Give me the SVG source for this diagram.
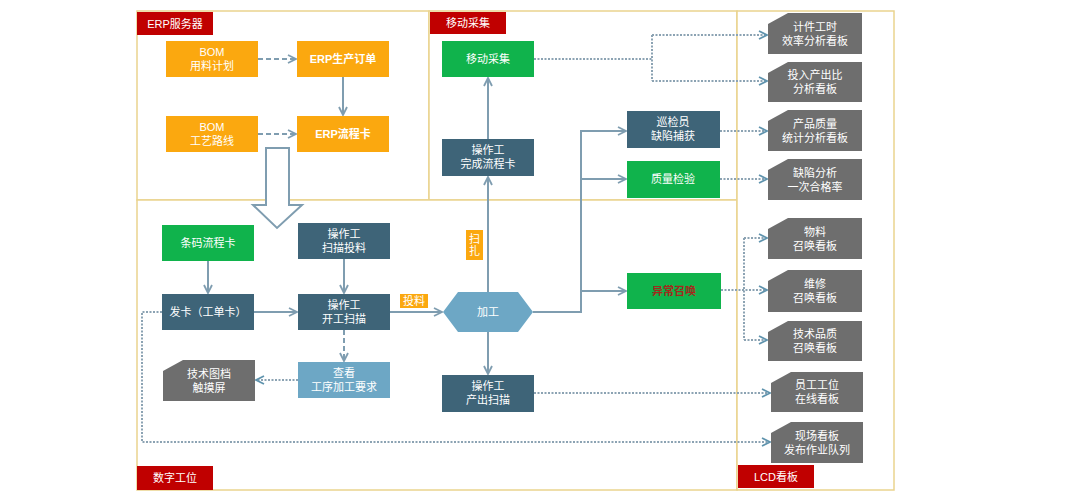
<svg xmlns="http://www.w3.org/2000/svg" width="1079" height="500" viewBox="0 0 1079 500">
<style>
.panel{fill:#fff;stroke:#EAD48E;stroke-width:1.5}
.tag{fill:#C00000}
.tagt{fill:#fff;font-family:"Liberation Sans","Noto Sans CJK SC",sans-serif;font-size:11px;text-anchor:middle;dominant-baseline:central}
.t{fill:#fff;font-family:"Liberation Sans","Noto Sans CJK SC",sans-serif;font-size:11px;text-anchor:middle;dominant-baseline:central}
.orange{fill:#FBA80F}
.green{fill:#10B34C}
.dark{fill:#3E6478}
.light{fill:#6DA7C5}
.gray{fill:#6E6E6E}
.solid{fill:none;stroke:#7F9DB0;stroke-width:2}
.dash{fill:none;stroke:#7F9DB0;stroke-width:2;stroke-dasharray:5 3}
.dot{fill:none;stroke:#8CA3B3;stroke-width:2;stroke-dasharray:2 1.5}
</style>
<defs>
<marker id="arr" viewBox="0 0 10 10" refX="9" refY="5" markerWidth="10" markerHeight="10" markerUnits="userSpaceOnUse" orient="auto">
<path d="M1,1 L9,5 L1,9" fill="none" stroke="#7F9DB0" stroke-width="1.8"/>
</marker>
<marker id="arrd" viewBox="0 0 10 10" refX="9" refY="5" markerWidth="10" markerHeight="10" markerUnits="userSpaceOnUse" orient="auto">
<path d="M1,1 L9,5 L1,9" fill="none" stroke="#5F93AD" stroke-width="1.8"/>
</marker>
</defs>
<rect width="1079" height="500" fill="#fff"/>

<g id="panels">
<rect class="panel" x="137" y="11" width="292" height="189"/>
<rect class="panel" x="429" y="11" width="308" height="189"/>
<rect class="panel" x="137" y="200" width="600" height="290"/>
<rect class="panel" x="737" y="11" width="157" height="479"/>
</g>

<g id="tag-erp"><rect class="tag" x="137" y="12" width="76" height="23"/><text class="tagt" x="175" y="24">ERP服务器</text></g>
<g id="tag-mobile"><rect class="tag" x="430" y="12" width="76" height="22"/><text class="tagt" x="468" y="23">移动采集</text></g>
<g id="tag-station"><rect class="tag" x="137" y="466" width="76" height="24"/><text class="tagt" x="175" y="478">数字工位</text></g>
<g id="tag-lcd"><rect class="tag" x="738" y="465" width="76" height="23"/><text class="tagt" x="776" y="477">LCD看板</text></g>

<g id="connectors">
<path class="dash" d="M258,59 H296" marker-end="url(#arr)"/>
<path class="dash" d="M258,134 H296" marker-end="url(#arr)"/>
<path class="solid" d="M343,77 V115" marker-end="url(#arr)"/>
<polygon points="266,148 289,148 289,205 302,205 277,228 253,205 266,205" fill="#fff" stroke="#7F9DB0" stroke-width="2"/>
<path class="solid" d="M208,261 V293" marker-end="url(#arr)"/>
<path class="solid" d="M344,259 V293" marker-end="url(#arr)"/>
<path class="solid" d="M254,312 H297" marker-end="url(#arr)"/>
<path class="dash" d="M344,330 V361" marker-end="url(#arr)"/>
<path class="dot" d="M298,380 H256" marker-end="url(#arrd)"/>
<path class="solid" d="M390,312 H442" marker-end="url(#arr)"/>
<path class="solid" d="M488,292 V177" marker-end="url(#arr)"/>
<path class="solid" d="M488,139 V78" marker-end="url(#arr)"/>
<path class="solid" d="M533,312 H581 V131 H626" marker-end="url(#arr)"/>
<path class="solid" d="M581,179 H626" marker-end="url(#arr)"/>
<path class="solid" d="M581,291 H626" marker-end="url(#arr)"/>
<path class="solid" d="M488,332 V374" marker-end="url(#arr)"/>
<path class="dot" d="M534,59 H652"/>
<path class="dot" d="M652,35 V81"/>
<path class="dot" d="M652,35 H767" marker-end="url(#arrd)"/>
<path class="dot" d="M652,81 H767" marker-end="url(#arrd)"/>
<path class="dot" d="M720,131 H767" marker-end="url(#arrd)"/>
<path class="dot" d="M720,179 H767" marker-end="url(#arrd)"/>
<path class="dot" d="M721,290 H767" marker-end="url(#arrd)"/>
<path class="dot" d="M744,238 V340"/>
<path class="dot" d="M744,238 H767" marker-end="url(#arrd)"/>
<path class="dot" d="M744,340 H767" marker-end="url(#arrd)"/>
<path class="dot" d="M534,393 H770" marker-end="url(#arrd)"/>
<path class="dot" d="M162,312 H142 V442 H770" marker-end="url(#arrd)"/>
</g>

<g id="n-bom-plan"><rect class="orange" x="166" y="41" width="92" height="36"/><text class="t" x="212" y="52">BOM</text><text class="t" x="212" y="66">用料计划</text></g>
<g id="n-erp-order"><rect class="orange" x="297" y="41" width="92" height="36"/><text class="t" x="343" y="59" font-weight="bold">ERP生产订单</text></g>
<g id="n-bom-route"><rect class="orange" x="166" y="116" width="92" height="36"/><text class="t" x="212" y="127">BOM</text><text class="t" x="212" y="141">工艺路线</text></g>
<g id="n-erp-card"><rect class="orange" x="297" y="116" width="92" height="36"/><text class="t" x="343" y="134" font-weight="bold">ERP流程卡</text></g>

<g id="n-mobile"><rect class="green" x="442" y="41" width="92" height="36"/><text class="t" x="488" y="59">移动采集</text></g>
<g id="n-finish"><rect class="dark" x="442" y="139" width="92" height="37"/><text class="t" x="488" y="150">操作工</text><text class="t" x="488" y="164">完成流程卡</text></g>
<g id="n-inspector"><rect class="dark" x="627" y="111" width="93" height="37"/><text class="t" x="673" y="122">巡检员</text><text class="t" x="673" y="136">缺陷捕获</text></g>
<g id="n-qc"><rect class="green" x="627" y="161" width="93" height="37"/><text class="t" x="673" y="179">质量检验</text></g>

<g id="n-barcode"><rect class="green" x="162" y="225" width="92" height="36"/><text class="t" x="208" y="243">条码流程卡</text></g>
<g id="n-scan-feed"><rect class="dark" x="298" y="223" width="92" height="36"/><text class="t" x="344" y="234">操作工</text><text class="t" x="344" y="248">扫描投料</text></g>
<g id="n-issue"><rect class="dark" x="162" y="294" width="92" height="36"/><text class="t" x="208" y="312">发卡（工单卡）</text></g>
<g id="n-start"><rect class="dark" x="298" y="294" width="92" height="36"/><text class="t" x="344" y="305">操作工</text><text class="t" x="344" y="319">开工扫描</text></g>
<g id="n-tech-doc"><path class="gray" d="M183,360 H255 V401 H163 V371 Z"/><text class="t" x="209" y="374">技术图档</text><text class="t" x="209" y="388">触摸屏</text></g>
<g id="n-view"><rect class="light" x="298" y="362" width="92" height="36"/><text class="t" x="344" y="373">查看</text><text class="t" x="344" y="387">工序加工要求</text></g>
<g id="n-feed-tag"><rect class="orange" x="400" y="294" width="28" height="14"/><text class="t" x="414" y="301" font-size="10">投料</text></g>
<g id="n-process"><polygon class="light" points="443,312 458,292 518,292 533,312 518,332 458,332"/><text class="t" x="488" y="312">加工</text></g>
<g id="n-scan-tag"><rect class="orange" x="466" y="230" width="17" height="30"/><text class="t" x="474.5" y="239" font-size="10">扫</text><text class="t" x="474.5" y="251" font-size="10">扎</text></g>
<g id="n-output"><rect class="dark" x="442" y="375" width="92" height="37"/><text class="t" x="488" y="386">操作工</text><text class="t" x="488" y="400">产出扫描</text></g>
<g id="n-abnormal"><rect class="green" x="627" y="273" width="94" height="36"/><text class="t" x="674" y="291" fill="#A3291C" style="fill:#A3291C" font-weight="bold">异常召唤</text></g>

<g id="n-lcd1"><path class="gray" d="M788,13 H862 V54 H768 V24 Z"/><text class="t" x="815" y="27">计件工时</text><text class="t" x="815" y="41">效率分析看板</text></g>
<g id="n-lcd2"><path class="gray" d="M788,62 H862 V102 H768 V73 Z"/><text class="t" x="815" y="75">投入产出比</text><text class="t" x="815" y="89">分析看板</text></g>
<g id="n-lcd3"><path class="gray" d="M788,110 H862 V151 H768 V121 Z"/><text class="t" x="815" y="124">产品质量</text><text class="t" x="815" y="138">统计分析看板</text></g>
<g id="n-lcd4"><path class="gray" d="M788,159 H862 V200 H768 V170 Z"/><text class="t" x="815" y="173">缺陷分析</text><text class="t" x="815" y="187">一次合格率</text></g>
<g id="n-lcd5"><path class="gray" d="M788,218 H862 V259 H768 V229 Z"/><text class="t" x="815" y="232">物料</text><text class="t" x="815" y="246">召唤看板</text></g>
<g id="n-lcd6"><path class="gray" d="M788,270 H862 V312 H768 V281 Z"/><text class="t" x="815" y="284">维修</text><text class="t" x="815" y="298">召唤看板</text></g>
<g id="n-lcd7"><path class="gray" d="M788,321 H862 V361 H768 V332 Z"/><text class="t" x="815" y="334">技术品质</text><text class="t" x="815" y="348">召唤看板</text></g>
<g id="n-lcd8"><path class="gray" d="M791,372 H863 V412 H771 V383 Z"/><text class="t" x="817" y="385">员工工位</text><text class="t" x="817" y="399">在线看板</text></g>
<g id="n-lcd9"><path class="gray" d="M791,422 H863 V463 H771 V433 Z"/><text class="t" x="817" y="436">现场看板</text><text class="t" x="817" y="450">发布作业队列</text></g>
</svg>
